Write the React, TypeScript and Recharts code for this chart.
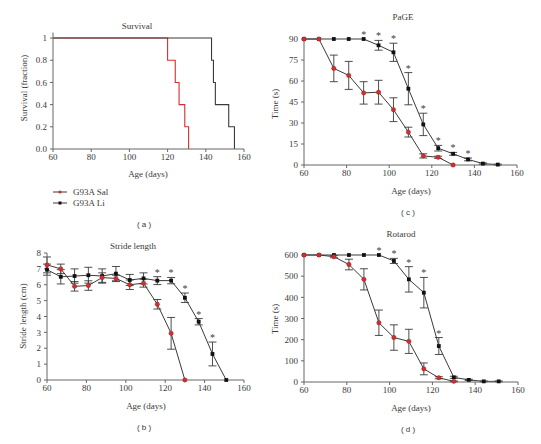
import { ComposedChart, ErrorBar, Line, XAxis, YAxis } from "recharts";

// sampling ages (days) shared by stride / PaGE / rotarod
const AGES = [60, 67, 74, 81, 88, 95, 102, 109, 116, 123, 130, 137, 144, 151];
const X_TICKS = [60, 80, 100, 120, 140, 160];

// (a) survival, step points
const SURV_SAL_AGE = [60, 120, 124, 126, 129, 131];
const SURV_SAL = [1, 0.8, 0.6, 0.4, 0.2, 0];
const SURV_LI_AGE = [60, 143, 144, 145, 152, 155];
const SURV_LI = [1, 0.8, 0.6, 0.4, 0.2, 0];

// (b) stride length (cm)
const STRIDE_SAL = [7.25, 7.0, 5.9, 5.95, 6.45, 6.4, 6.0, 6.1, 4.77, 2.94, 0, null, null, null];
const STRIDE_SAL_ERR = [0.5, 0.3, 0.3, 0.3, 0.3, 0.2, 0.3, 0.25, 0.3, 1.0, 0, null, null, null];
const STRIDE_LI = [6.95, 6.5, 6.55, 6.6, 6.55, 6.7, 6.3, 6.4, 6.26, 6.26, 5.18, 3.67, 1.64, 0];
const STRIDE_LI_ERR = [0.35, 0.45, 0.45, 0.5, 0.45, 0.45, 0.35, 0.35, 0.25, 0.2, 0.3, 0.2, 0.75, 0];
const STRIDE_SIG = [116, 123, 130, 137, 144];

// (c) PaGE time (s)
const PAGE_SAL = [90, 90, 69, 64, 51.5, 52, 39.5, 23.5, 6.5, 5.5, 0, null, null, null];
const PAGE_SAL_ERR = [0, 0, 9.5, 10, 8, 8.5, 8.5, 3.5, 1.5, 0.8, 0, null, null, null];
const PAGE_LI = [90, 90, 90, 90, 90, 85.5, 80.5, 54.5, 29, 12, 8, 4, 1, 0.3];
const PAGE_LI_ERR = [0, 0, 0, 0, 0, 3.5, 6.5, 11.5, 8, 2, 1, 1, 0.5, 0.3];
const PAGE_SIG = [88, 95, 102, 109, 116, 123, 130, 137];

// (d) rotarod time (s)
const ROTA_SAL = [600, 600, 592, 555, 485, 280, 210, 192, 62, 20, 3, null, null, null];
const ROTA_SAL_ERR = [0, 0, 5, 25, 50, 60, 60, 57, 28, 5, 2, null, null, null];
const ROTA_LI = [600, 600, 600, 600, 600, 600, 572, 485, 422, 170, 22, 10, 3, 3];
const ROTA_LI_ERR = [0, 0, 0, 0, 0, 0, 12, 60, 72, 40, 5, 3, 2, 2];
const ROTA_SIG = [95, 102, 109, 116, 123];

const FONT = "'Liberation Serif', 'DejaVu Serif', serif";
const INK = "#3a3a3a";
const AXIS = "#666";
const RED = "#d12f2f";

function buildRows(sal, salErr, li, liErr, sig) {
  return AGES.map((age, i) => ({
    age,
    sal: sal[i],
    salErr: salErr[i],
    li: li[i],
    liErr: liErr[i],
    star: sig.includes(age) ? li[i] + liErr[i] : null,
  }));
}

const tickStyle = { fontSize: 9, fill: INK, fontFamily: FONT };

function RedDot(props) {
  const { cx, cy, index } = props;
  if (cy == null || Number.isNaN(cy)) return <g key={`r${index}`} />;
  return <circle key={`r${index}`} cx={cx} cy={cy} r={2.2} fill={RED} stroke="#8c1f1f" strokeWidth={0.4} />;
}

function SquareDot(props) {
  const { cx, cy, index } = props;
  if (cy == null || Number.isNaN(cy)) return <g key={`s${index}`} />;
  return <rect key={`s${index}`} x={cx - 1.9} y={cy - 1.9} width={3.8} height={3.8} fill="#111" />;
}

function StarDot(props) {
  const { cx, cy, index, value } = props;
  if (value == null || cy == null || Number.isNaN(cy)) return <g key={`t${index}`} />;
  return (
    <text key={`t${index}`} x={cx} y={cy - 1} textAnchor="middle" fontSize={10} fontFamily={FONT} fill={INK}>
      *
    </text>
  );
}

function TrendPanel({ left, top, width, margin, yWidth, rows, yDomain, yTicks }) {
  return (
    <div style={{ position: "absolute", left, top }}>
      <ComposedChart width={width} height={200} data={rows} margin={margin}>
        <XAxis
          type="number"
          dataKey="age"
          domain={[60, 160]}
          ticks={X_TICKS}
          height={20}
          tickSize={3}
          tickMargin={2}
          stroke={AXIS}
          tick={tickStyle}
        />
        <YAxis
          type="number"
          domain={yDomain}
          ticks={yTicks}
          width={yWidth}
          tickSize={3}
          tickMargin={3}
          stroke={AXIS}
          tick={tickStyle}
          interval={0}
        />
        <Line dataKey="li" stroke={INK} strokeWidth={1} dot={SquareDot} isAnimationActive={false}>
          <ErrorBar dataKey="liErr" width={4} stroke={INK} strokeWidth={0.9} direction="y" />
        </Line>
        <Line dataKey="sal" stroke={INK} strokeWidth={1} dot={RedDot} isAnimationActive={false}>
          <ErrorBar dataKey="salErr" width={4} stroke={INK} strokeWidth={0.9} direction="y" />
        </Line>
        <Line dataKey="star" stroke="none" dot={StarDot} isAnimationActive={false} />
      </ComposedChart>
    </div>
  );
}

function Label({ x, y, children, rotate = false, sans = false, size = 9 }) {
  return (
    <div
      style={{
        position: "absolute",
        left: x,
        top: y,
        transform: `translate(-50%, -50%)${rotate ? " rotate(-90deg)" : ""}`,
        fontFamily: sans ? "'Liberation Sans', Arial, sans-serif" : FONT,
        fontSize: size,
        color: INK,
        whiteSpace: "nowrap",
        lineHeight: 1,
      }}
    >
      {children}
    </div>
  );
}

const survSal = SURV_SAL_AGE.map((age, i) => ({ age, v: SURV_SAL[i] }));
const survLi = SURV_LI_AGE.map((age, i) => ({ age, v: SURV_LI[i] }));

export default function App() {
  const strideRows = buildRows(STRIDE_SAL, STRIDE_SAL_ERR, STRIDE_LI, STRIDE_LI_ERR, STRIDE_SIG);
  const pageRows = buildRows(PAGE_SAL, PAGE_SAL_ERR, PAGE_LI, PAGE_LI_ERR, PAGE_SIG);
  const rotaRows = buildRows(ROTA_SAL, ROTA_SAL_ERR, ROTA_LI, ROTA_LI_ERR, ROTA_SIG);

  return (
    <div style={{ position: "absolute", left: 0, top: 0, width: 541, height: 444, background: "#fff", overflow: "hidden" }}>
      {/* (a) survival */}
      <div style={{ position: "absolute", left: 0, top: 0 }}>
        <ComposedChart width={270} height={200} margin={{ top: 32.5, right: 26, bottom: 31, left: 23 }}>
          <XAxis
            type="number"
            dataKey="age"
            domain={[60, 160]}
            ticks={X_TICKS}
            height={20}
            tickSize={3}
            tickMargin={2}
            stroke={AXIS}
            tick={tickStyle}
            allowDuplicatedCategory={false}
          />
          <YAxis
            type="number"
            dataKey="v"
            domain={[0, 1.05]}
            ticks={[0, 0.2, 0.4, 0.6, 0.8, 1]}
            tickFormatter={(v) => (v === 1 ? "1" : v.toFixed(1))}
            width={30}
            tickSize={3}
            tickMargin={3}
            stroke={AXIS}
            tick={tickStyle}
            interval={0}
          />
          <Line data={survSal} dataKey="v" type="stepAfter" stroke={RED} strokeWidth={1.1} dot={false} isAnimationActive={false} />
          <Line data={survLi} dataKey="v" type="stepAfter" stroke={INK} strokeWidth={1.1} dot={false} isAnimationActive={false} />
        </ComposedChart>
      </div>

      {/* (b) stride length */}
      <TrendPanel
        left={0}
        top={210}
        width={270}
        margin={{ top: 43, right: 26, bottom: 10, left: 25 }}
        yWidth={22}
        rows={strideRows}
        yDomain={[0, 8]}
        yTicks={[0, 1, 2, 3, 4, 5, 6, 7, 8]}
      />

      {/* (c) PaGE */}
      <TrendPanel
        left={270}
        top={0}
        width={271}
        margin={{ top: 39, right: 24, bottom: 15, left: 10 }}
        yWidth={24}
        rows={pageRows}
        yDomain={[0, 90]}
        yTicks={[0, 15, 30, 45, 60, 75, 90]}
      />

      {/* (d) rotarod */}
      <TrendPanel
        left={270}
        top={210}
        width={271}
        margin={{ top: 45, right: 23, bottom: 8, left: 6 }}
        yWidth={28}
        rows={rotaRows}
        yDomain={[0, 600]}
        yTicks={[0, 100, 200, 300, 400, 500, 600]}
      />

      {/* titles */}
      <Label x={137} y={26}>Survival</Label>
      <Label x={403} y={17}>PaGE</Label>
      <Label x={133} y={246}>Stride length</Label>
      <Label x={401} y={234}>Rotarod</Label>

      {/* axis titles */}
      <Label x={24} y={88} rotate>Survival (fraction)</Label>
      <Label x={23} y={316} rotate>Stride length (cm)</Label>
      <Label x={275} y={104} rotate>Time (s)</Label>
      <Label x={275} y={319} rotate>Time (s)</Label>
      <Label x={148} y={174}>Age (days)</Label>
      <Label x={146} y={406}>Age (days)</Label>
      <Label x={411} y={191}>Age (days)</Label>
      <Label x={411} y={408}>Age (days)</Label>

      {/* panel captions */}
      <Label x={144} y={225} sans size={8}>( a )</Label>
      <Label x={144} y={428} sans size={8}>( b )</Label>
      <Label x={408} y={213} sans size={8}>( c )</Label>
      <Label x={408} y={430} sans size={8}>( d )</Label>

      {/* legend */}
      <svg style={{ position: "absolute", left: 50, top: 185 }} width={100} height={25}>
        <line x1={3} y1={7} x2={17} y2={7} stroke={INK} strokeWidth={1} />
        <circle cx={10} cy={7} r={1.6} fill={RED} />
        <text x={23} y={10} fontSize={9} fontFamily={FONT} fill={INK}>G93A Sal</text>
        <line x1={3} y1={18} x2={17} y2={18} stroke={INK} strokeWidth={1} />
        <rect x={8.5} y={16.5} width={3} height={3} fill="#111" />
        <text x={23} y={21} fontSize={9} fontFamily={FONT} fill={INK}>G93A Li</text>
      </svg>
    </div>
  );
}
